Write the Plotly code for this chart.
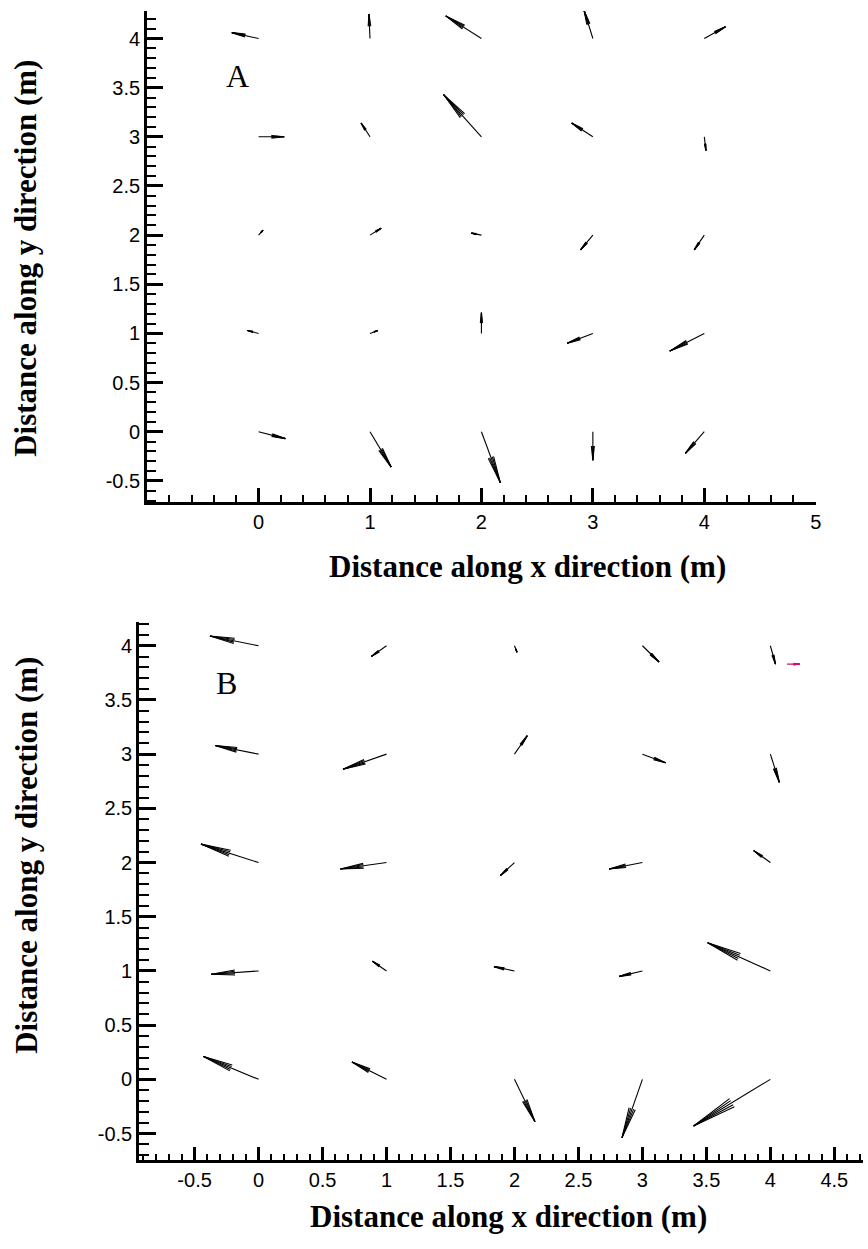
import math
import plotly.graph_objects as go

W, H = 868, 1249

# Measurement stations (m)
grid_x = [0, 1, 2, 3, 4]
grid_y = [0, 1, 2, 3, 4]

# Case A vector components; rows follow grid_y, columns follow grid_x
u_a = [
    [0.24, 0.19, 0.17, 0.00, -0.17],
    [-0.10, 0.07, 0.00, -0.23, -0.31],
    [0.04, 0.10, -0.09, -0.11, -0.09],
    [0.23, -0.08, -0.34, -0.19, 0.015],
    [-0.24, -0.01, -0.32, -0.08, 0.19],
]
v_a = [
    [-0.07, -0.36, -0.52, -0.29, -0.22],
    [0.03, 0.03, 0.21, -0.10, -0.18],
    [0.05, 0.07, 0.02, -0.15, -0.15],
    [0.00, 0.14, 0.43, 0.14, -0.14],
    [0.06, 0.25, 0.23, 0.29, 0.12],
]

# Case B vector components
u_b = [
    [-0.43, -0.27, 0.16, -0.16, -0.60],
    [-0.37, -0.11, -0.16, -0.18, -0.49],
    [-0.45, -0.36, -0.11, -0.26, -0.13],
    [-0.34, -0.34, 0.10, 0.18, 0.07],
    [-0.38, -0.12, 0.02, 0.13, 0.04],
]
v_b = [
    [0.21, 0.16, -0.39, -0.54, -0.43],
    [-0.03, 0.09, 0.04, -0.05, 0.26],
    [0.17, -0.06, -0.12, -0.06, 0.11],
    [0.08, -0.14, 0.17, -0.08, -0.26],
    [0.09, -0.10, -0.06, -0.15, -0.17],
]

# Reference vector drawn in case B
ref_x, ref_y, ref_u, ref_v = [4.13], [3.83], [0.10], [0.0]

# Axis ticks
xa_ticks = [0, 1, 2, 3, 4, 5]
xa_text = ["0", "1", "2", "3", "4", "5"]
xb_ticks = [-0.5, 0, 0.5, 1, 1.5, 2, 2.5, 3, 3.5, 4, 4.5]
xb_text = ["-0.5", "0", "0.5", "1", "1.5", "2", "2.5", "3", "3.5", "4", "4.5"]
y_ticks = [-0.5, 0, 0.5, 1, 1.5, 2, 2.5, 3, 3.5, 4]
y_text = ["-0.5", "0", "0.5", "1", "1.5", "2", "2.5", "3", "3.5", "4"]

# Axis geometry
xa_dom, xa_rng = [148 / W, 821 / W], [-1.0, 5.005]
ya_dom, ya_rng = [1 - 502 / H, 1 - 11 / H], [-0.715, 4.28]
xb_dom, xb_rng = [140 / W, 1.0], [-0.933, 4.724]
yb_dom, yb_rng = [1 - 1160 / H, 1 - 622 / H], [-0.744, 4.219]


def px_per_unit(dom, rng, size):
    return size * (dom[1] - dom[0]) / (rng[1] - rng[0])


def arrows(xs, ys, us, vs, sx, sy, head=0.5, ang=6.0):
    """Shaft + narrow arrowhead line segments, computed in pixel space."""
    X, Y = [], []
    t_out = math.tan(math.radians(ang))
    t_in = math.tan(math.radians(ang / 2))
    for x0, y0, u, v in zip(xs, ys, us, vs):
        dxp, dyp = u * sx, v * sy
        L = math.hypot(dxp, dyp)
        if L == 0:
            continue
        ex, ey = dxp / L, dyp / L
        x1, y1 = x0 + u, y0 + v
        h = head * L
        bx, by = -ex * h, -ey * h
        X += [x0, x1, None]
        Y += [y0, y1, None]
        for t in (t_out, -t_out, t_in, -t_in):
            px_, py_ = bx + (-ey) * h * t, by + ex * h * t
            X += [x1, x1 + px_ / sx, None]
            Y += [y1, y1 + py_ / sy, None]
    return X, Y


def flatten(field):
    xs, ys, vals = [], [], []
    for j, row in enumerate(field):
        for i, val in enumerate(row):
            xs.append(grid_x[i])
            ys.append(grid_y[j])
            vals.append(val)
    return xs, ys, vals


fig = go.Figure()

sxa = px_per_unit(xa_dom, xa_rng, W)
sya = px_per_unit(ya_dom, ya_rng, H)
sxb = px_per_unit(xb_dom, xb_rng, W)
syb = px_per_unit(yb_dom, yb_rng, H)

xs, ys, ua = flatten(u_a)
_, _, va = flatten(v_a)
AX, AY = arrows(xs, ys, ua, va, sxa, sya)
fig.add_trace(go.Scatter(x=AX, y=AY, mode="lines", xaxis="x", yaxis="y",
                         line=dict(color="black", width=1.1),
                         hoverinfo="skip", showlegend=False))

xs, ys, ub = flatten(u_b)
_, _, vb = flatten(v_b)
BX, BY = arrows(xs, ys, ub, vb, sxb, syb)
fig.add_trace(go.Scatter(x=BX, y=BY, mode="lines", xaxis="x2", yaxis="y2",
                         line=dict(color="black", width=1.1),
                         hoverinfo="skip", showlegend=False))

RX, RY = arrows(ref_x, ref_y, ref_u, ref_v, sxb, syb)
fig.add_trace(go.Scatter(x=RX, y=RY, mode="lines", xaxis="x2", yaxis="y2",
                         line=dict(color="#d0106a", width=1.3),
                         hoverinfo="skip", showlegend=False))

tick_font = dict(family="Liberation Sans, Arial, sans-serif", size=20, color="black")


def axis(dom, rng, vals, text, major_len, minor_len, minor_dtick, anchor):
    return dict(
        domain=dom, range=rng, anchor=anchor,
        tickmode="array", tickvals=vals, ticktext=text,
        ticks="inside", ticklen=major_len, tickwidth=3, tickcolor="black",
        showline=True, linewidth=3, linecolor="black",
        showgrid=False, zeroline=False, tickfont=tick_font,
        ticklabelstandoff=0,
        minor=dict(ticks="inside", tickmode="linear", tick0=0, dtick=minor_dtick,
                   ticklen=minor_len, tickwidth=1.5, tickcolor="black",
                   showgrid=False),
    )


title_font = dict(family="Liberation Serif, Times New Roman, serif", size=31, color="black")
label_font = dict(family="Liberation Serif, Times New Roman, serif", size=32, color="black")

fig.update_layout(
    width=W, height=H,
    margin=dict(l=0, r=0, t=0, b=0),
    paper_bgcolor="white", plot_bgcolor="white",
    showlegend=False,
    xaxis=axis(xa_dom, xa_rng, xa_ticks, xa_text, 14, 7, 0.2, "y"),
    yaxis=axis(ya_dom, ya_rng, y_ticks, y_text, 16, 9, 0.1, "x"),
    xaxis2=axis(xb_dom, xb_rng, xb_ticks, xb_text, 13, 6, 0.1, "y2"),
    yaxis2=axis(yb_dom, yb_rng, y_ticks, y_text, 17, 10, 0.1, "x2"),
    annotations=[
        dict(text="<b>Distance along x direction (m)</b>", xref="paper", yref="paper",
             x=531 / W, y=1 - 566 / H, xanchor="center", yanchor="middle",
             showarrow=False, font=title_font),
        dict(text="<b>Distance along y direction (m)</b>", xref="paper", yref="paper",
             x=26 / W, y=1 - 258 / H, xanchor="center", yanchor="middle",
             textangle=-90, showarrow=False, font=title_font),
        dict(text="<b>Distance along x direction (m)</b>", xref="paper", yref="paper",
             x=511 / W, y=1 - 1216 / H, xanchor="center", yanchor="middle",
             showarrow=False, font=title_font),
        dict(text="<b>Distance along y direction (m)</b>", xref="paper", yref="paper",
             x=26 / W, y=1 - 855 / H, xanchor="center", yanchor="middle",
             textangle=-90, showarrow=False, font=title_font),
        dict(text="A", xref="x", yref="y", x=-0.19, y=3.62, showarrow=False,
             xanchor="center", yanchor="middle", font=label_font),
        dict(text="B", xref="x2", yref="y2", x=-0.25, y=3.66, showarrow=False,
             xanchor="center", yanchor="middle", font=label_font),
    ],
)

fig.write_html("out.html")
